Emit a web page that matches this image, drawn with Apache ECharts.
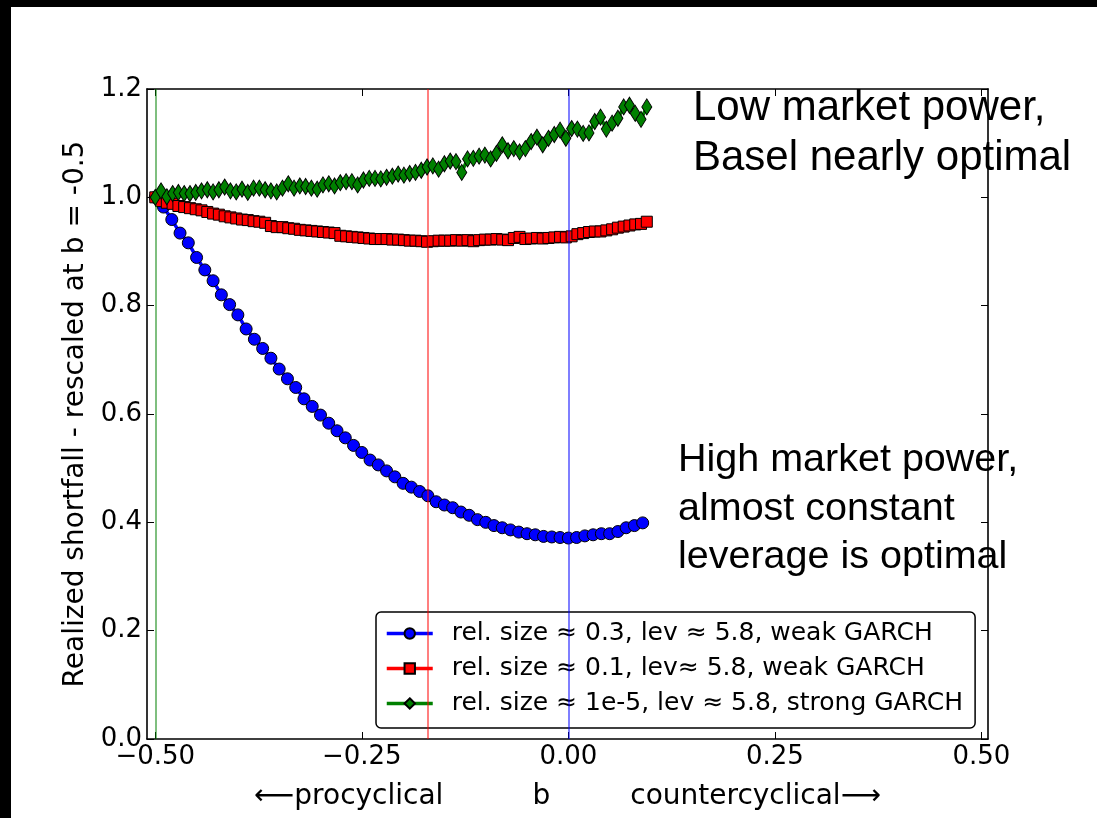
<!DOCTYPE html>
<html>
<head>
<meta charset="utf-8">
<script src="https://cdn.jsdelivr.net/npm/echarts@6/dist/echarts.min.js"></script>
<style>
html,body{margin:0;padding:0;background:#000;width:1097px;height:818px;overflow:hidden;}
#c{position:absolute;left:11px;top:7px;width:1086px;height:811px;background:#fff;}
</style>
</head>
<body>
<div id="c"></div>
<script>
// ---- data ----
const bBlue = [-0.50,-0.49,-0.48,-0.47,-0.46,-0.45,-0.44,-0.43,-0.42,-0.41,
  -0.40,-0.39,-0.38,-0.37,-0.36,-0.35,-0.34,-0.33,-0.32,-0.31,
  -0.30,-0.29,-0.28,-0.27,-0.26,-0.25,-0.24,-0.23,-0.22,-0.21,
  -0.20,-0.19,-0.18,-0.17,-0.16,-0.15,-0.14,-0.13,-0.12,-0.11,
  -0.10,-0.09,-0.08,-0.07,-0.06,-0.05,-0.04,-0.03,-0.02,-0.01,
  0.00,0.01,0.02,0.03,0.04,0.05,0.06,0.07,0.08,0.09];
const blueValues = [1.000,0.982,0.959,0.934,0.916,0.889,0.866,0.846,0.820,0.802,
  0.783,0.757,0.738,0.721,0.703,0.683,0.665,0.649,0.628,0.614,
  0.598,0.583,0.569,0.556,0.542,0.529,0.515,0.506,0.495,0.484,
  0.472,0.465,0.457,0.449,0.438,0.432,0.427,0.419,0.413,0.405,
  0.400,0.394,0.390,0.386,0.382,0.379,0.377,0.374,0.373,0.372,
  0.371,0.372,0.375,0.377,0.379,0.379,0.383,0.390,0.394,0.399];

const bFine = [-0.500,-0.493,-0.486,-0.479,-0.472,-0.465,-0.458,-0.451,-0.444,-0.437,
  -0.430,-0.423,-0.416,-0.409,-0.402,-0.395,-0.388,-0.381,-0.374,-0.367,
  -0.360,-0.353,-0.346,-0.339,-0.332,-0.325,-0.318,-0.311,-0.304,-0.297,
  -0.290,-0.283,-0.276,-0.269,-0.262,-0.255,-0.248,-0.241,-0.234,-0.227,
  -0.220,-0.213,-0.206,-0.199,-0.192,-0.185,-0.178,-0.171,-0.164,-0.157,
  -0.150,-0.143,-0.136,-0.129,-0.122,-0.115,-0.108,-0.101,-0.094,-0.087,
  -0.080,-0.073,-0.066,-0.059,-0.052,-0.045,-0.038,-0.031,-0.024,-0.017,
  -0.010,-0.003,0.004,0.011,0.018,0.025,0.032,0.039,0.046,0.053,
  0.060,0.067,0.074,0.081,0.088,0.095];
const redValues = [1.000,0.993,0.990,0.988,0.984,0.982,0.980,0.978,0.976,0.973,
  0.970,0.968,0.965,0.963,0.961,0.959,0.958,0.956,0.955,0.953,
  0.947,0.945,0.945,0.943,0.942,0.940,0.939,0.938,0.937,0.936,
  0.935,0.934,0.929,0.928,0.927,0.926,0.925,0.924,0.923,0.923,
  0.923,0.922,0.922,0.921,0.920,0.920,0.919,0.918,0.919,0.920,
  0.920,0.920,0.921,0.920,0.921,0.919,0.921,0.922,0.922,0.923,
  0.922,0.921,0.925,0.927,0.923,0.924,0.925,0.924,0.925,0.926,
  0.927,0.926,0.928,0.932,0.934,0.936,0.937,0.937,0.939,0.941,
  0.944,0.946,0.948,0.950,0.951,0.955];
const greenValues = [1.000,1.012,1.001,1.007,1.009,1.007,1.007,1.009,1.012,1.014,
  1.010,1.014,1.019,1.012,1.010,1.015,1.009,1.017,1.017,1.014,
  1.012,1.010,1.017,1.025,1.017,1.021,1.020,1.017,1.015,1.023,
  1.025,1.021,1.027,1.029,1.029,1.023,1.032,1.035,1.035,1.034,
  1.037,1.039,1.043,1.041,1.044,1.046,1.050,1.056,1.058,1.052,
  1.062,1.067,1.066,1.046,1.071,1.072,1.076,1.078,1.071,1.081,
  1.097,1.086,1.090,1.084,1.090,1.103,1.111,1.097,1.109,1.116,
  1.124,1.109,1.127,1.126,1.118,1.119,1.140,1.148,1.126,1.137,
  1.146,1.167,1.170,1.155,1.144,1.167];

// b at which each curve is lowest (vertical guide lines): blue, red, green
const optimumB = [0.0, -0.171, -0.5];

const seriesNames = [
  'rel. size \u2248 0.3, lev \u2248 5.8, weak GARCH',
  'rel. size \u2248 0.1, lev\u2248 5.8, weak GARCH',
  'rel. size \u2248 1e-5, lev \u2248 5.8, strong GARCH'
];
const xTickValues = [-0.5, -0.25, 0, 0.25, 0.5];
const yTickValues = [0, 0.2, 0.4, 0.6, 0.8, 1.0, 1.2];
const xAxisTitle = '\u27F5procyclical          b         countercyclical\u27F6';
const yAxisTitle = 'Realized shortfall - rescaled at b = -0.5';
const noteTop = 'Low market power,\nBasel nearly optimal';
const noteBottom = 'High market power,\nalmost constant\nleverage is optimal';

// ---- chart ----
const pair = (xs, ys) => xs.map((x, i) => [x, ys[i]]);
const FONT = 'DejaVu Sans';
const fmtX = v => (v < 0 ? '\u2212' : '') + Math.abs(v).toFixed(2);

function vline(val, color) {
  return {
    silent: true, symbol: 'none', animation: false,
    label: { show: false },
    lineStyle: { color: color, width: 2, type: 'solid', opacity: 0.5 },
    emphasis: { disabled: true },
    data: [{ xAxis: val }]
  };
}

const chart = echarts.init(document.getElementById('c'), null, { renderer: 'canvas' });
const axisCommon = {
  axisLine: { show: true, onZero: false, lineStyle: { color: '#000', width: 1.6 } },
  splitLine: { show: false }
};
chart.setOption({
  backgroundColor: '#fff',
  animation: false,
  textStyle: { fontFamily: FONT },
  grid: { left: 136, top: 82, width: 841, height: 650, containLabel: false },
  xAxis: [
    Object.assign({}, axisCommon, {
      type: 'value', min: -0.51, max: 0.508, position: 'bottom',
      axisTick: { show: true, inside: true, length: 7, customValues: xTickValues, lineStyle: { color: '#000', width: 1 } },
      axisLabel: { show: true, customValues: xTickValues, formatter: fmtX, color: '#000', fontSize: 26, fontFamily: FONT, margin: 5 },
      name: xAxisTitle, nameLocation: 'middle', nameGap: 44,
      nameTextStyle: { color: '#000', fontSize: 28, fontFamily: FONT }
    }),
    Object.assign({}, axisCommon, {
      type: 'value', min: -0.51, max: 0.508, position: 'top',
      axisTick: { show: true, inside: true, length: 7, customValues: xTickValues, lineStyle: { color: '#000', width: 1 } },
      axisLabel: { show: false }
    })
  ],
  yAxis: [
    Object.assign({}, axisCommon, {
      type: 'value', min: 0, max: 1.2, interval: 0.2, position: 'left',
      axisTick: { show: true, inside: true, length: 7, lineStyle: { color: '#000', width: 1 } },
      axisLabel: { show: true, formatter: v => v.toFixed(1), color: '#000', fontSize: 26, fontFamily: FONT, margin: 5 },
      name: yAxisTitle, nameLocation: 'middle', nameGap: 56, nameRotate: 90,
      nameTextStyle: { color: '#000', fontSize: 28, fontFamily: FONT }
    }),
    Object.assign({}, axisCommon, {
      type: 'value', min: 0, max: 1.2, interval: 0.2, position: 'right',
      axisTick: { show: true, inside: true, length: 7, lineStyle: { color: '#000', width: 1 } },
      axisLabel: { show: false }
    })
  ],
  legend: {
    show: true, orient: 'vertical', left: 365, top: 605,
    backgroundColor: '#fff', borderColor: '#000', borderWidth: 1.5, borderRadius: 5,
    padding: [9, 12, 12, 9], itemGap: 10, itemWidth: 46, itemHeight: 13,
    lineStyle: { width: 3.5 },
    textStyle: { fontSize: 25, fontFamily: FONT, color: '#000', padding: [0, 0, 0, 14] },
    selectedMode: false,
    data: seriesNames
  },
  graphic: [
    { type: 'text', left: 682, top: 76, z: 100,
      style: { text: noteTop, font: '42px "Liberation Sans", Arial, sans-serif', lineHeight: 50, fill: '#000' } },
    { type: 'text', left: 667, top: 429, z: 100,
      style: { text: noteBottom, font: '39.5px "Liberation Sans", Arial, sans-serif', lineHeight: 48.5, fill: '#000' } }
  ],
  series: [
    { name: seriesNames[0], type: 'line', data: pair(bBlue, blueValues), z: 3,
      symbol: 'circle', symbolSize: 12, showAllSymbol: true,
      lineStyle: { color: '#0000ff', width: 3.5 },
      itemStyle: { color: '#0000ff', borderColor: '#000', borderWidth: 1 },
      emphasis: { disabled: true },
      markLine: vline(optimumB[0], '#0000ff') },
    { name: seriesNames[1], type: 'line', data: pair(bFine, redValues), z: 4,
      symbol: 'rect', symbolSize: 11, showAllSymbol: true,
      lineStyle: { color: '#ff0000', width: 3.5 },
      itemStyle: { color: '#ff0000', borderColor: '#000', borderWidth: 1 },
      emphasis: { disabled: true },
      markLine: vline(optimumB[1], '#ff0000') },
    { name: seriesNames[2], type: 'line', data: pair(bFine, greenValues), z: 5,
      symbol: 'diamond', symbolSize: [10, 16], showAllSymbol: true,
      lineStyle: { color: '#008000', width: 3.5 },
      itemStyle: { color: '#008000', borderColor: '#000', borderWidth: 1 },
      emphasis: { disabled: true },
      markLine: vline(optimumB[2], '#008000') }
  ]
});
</script>
</body>
</html>
